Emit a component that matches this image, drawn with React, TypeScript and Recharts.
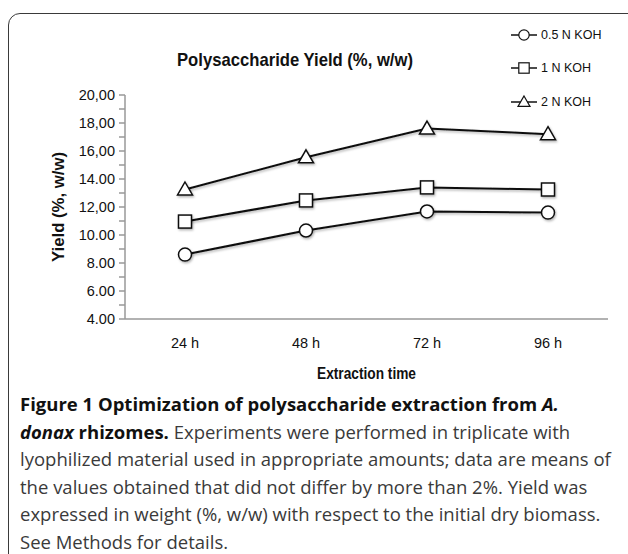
import React from 'react';
import { LineChart, Line, XAxis, YAxis, Legend } from 'recharts';

const times = ['24 h', '48 h', '72 h', '96 h'];
const koh05 = [8.6, 10.32, 11.68, 11.6];
const koh1 = [10.96, 12.47, 13.4, 13.25];
const koh2 = [13.25, 15.55, 17.6, 17.2];
const seriesNames = ['0.5 N KOH', '1 N KOH', '2 N KOH'];
const yTicks = [4, 5, 6, 7, 8, 9, 10, 11, 12, 13, 14, 15, 16, 17, 18, 19, 20];
const yTickLabels: Record<number, string> = {
  4: '4.00', 6: '6.00', 8: '8.00', 10: '10.00', 12: '12,00',
  14: '14.00', 16: '16,00', 18: '18,00', 20: '20,00',
};

const data = times.map((t, i) => ({ time: t, a: koh05[i], b: koh1[i], c: koh2[i] }));

type Shape = 'circle' | 'square' | 'triangle';

function Marker({ cx, cy, shape }: { cx: number; cy: number; shape: Shape }) {
  const common = { fill: '#fff', stroke: '#111', strokeWidth: 1.5 };
  if (shape === 'circle') return <circle cx={cx} cy={cy} r={6.5} {...common} />;
  if (shape === 'square') return <rect x={cx - 6.5} y={cy - 6.5} width={13} height={13} {...common} />;
  return <path d={`M${cx},${cy - 7.5} L${cx + 7.5},${cy + 5.5} L${cx - 7.5},${cy + 5.5} Z`} {...common} />;
}

const makeDot = (shape: Shape) => (props: any) => (
  <g key={`${shape}-${props.index}`} filter="url(#shadow)">
    <Marker cx={props.cx} cy={props.cy} shape={shape} />
  </g>
);

const shapes: Shape[] = ['circle', 'square', 'triangle'];

function LegendBox() {
  return (
    <div>
      {seriesNames.map((name, i) => (
        <div key={name} style={{ display: 'flex', alignItems: 'center', height: 33.5 }}>
          <svg width={28} height={16} style={{ display: 'block' }}>
            <line x1={1} y1={8} x2={27} y2={8} stroke="#111" strokeWidth={1.5} />
            <g transform="translate(14,8) scale(0.8) translate(-14,-8)">
              <Marker cx={14} cy={8} shape={shapes[i]} />
            </g>
          </svg>
          <span style={{ fontSize: 12.5, lineHeight: '16px', marginLeft: 3, color: '#111', fontFamily: 'Liberation Sans, Arial, sans-serif' }}>
            {name}
          </span>
        </div>
      ))}
    </div>
  );
}

const captionLines: React.ReactNode[] = [
  <b key="b1" style={{ color: '#111' }}>Figure 1 Optimization of polysaccharide extraction from <i>A.</i></b>,
  <>
    <b style={{ color: '#111' }}><i>donax</i> rhizomes.</b> Experiments were performed in triplicate with
  </>,
  'lyophilized material used in appropriate amounts; data are means of',
  'the values obtained that did not differ by more than 2%. Yield was',
  'expressed in weight (%, w/w) with respect to the initial dry biomass.',
  'See Methods for details.',
];

export default function App() {
  return (
    <div
      style={{
        position: 'absolute', left: 0, top: 0, width: 628, height: 554,
        overflow: 'hidden', background: '#fff',
        fontFamily: 'Liberation Sans, Arial, sans-serif',
      }}
    >
      <div
        style={{
          position: 'absolute', left: 8, top: 13, width: 700, height: 700,
          border: '1.5px solid #3a3a3a', borderRadius: 12, boxSizing: 'border-box',
        }}
      />
      <svg style={{ position: 'absolute', left: 0, top: 0 }} width={628} height={90}>
        <text
          x={295} y={66} textAnchor="middle" fontSize={19} fontWeight="bold"
          fill="#111" textLength={236} lengthAdjust="spacingAndGlyphs"
        >
          Polysaccharide Yield (%, w/w)
        </text>
      </svg>
      <div style={{ position: 'absolute', left: 0, top: 0 }}>
        <LineChart width={628} height={400} data={data} margin={{ top: 95, right: 20, bottom: 41, left: 65 }}>
          <defs>
            <filter id="shadow" x="-50%" y="-50%" width="200%" height="200%">
              <feDropShadow dx={1} dy={1.5} stdDeviation={1} floodColor="#000" floodOpacity={0.3} />
            </filter>
          </defs>
          <XAxis
            dataKey="time"
            axisLine={{ stroke: '#999', strokeWidth: 1.5 }}
            tickLine={false}
            tickMargin={13}
            height={40}
            padding={{ left: 60, right: 60 }}
            tick={{ fontSize: 14.5, fill: '#111' }}
            label={{
              content: (p: any) => (
                <text
                  x={p.viewBox.x + p.viewBox.width / 2} y={p.viewBox.y + 60}
                  textAnchor="middle" fontSize={16} fontWeight="bold" fill="#111"
                  textLength={99} lengthAdjust="spacingAndGlyphs"
                >
                  Extraction time
                </text>
              ),
            }}
          />
          <YAxis
            domain={[4, 20]}
            ticks={yTicks}
            interval={0}
            width={60}
            axisLine={{ stroke: '#999', strokeWidth: 1.5 }}
            tickLine={{ stroke: '#999', strokeWidth: 1.5 }}
            tickSize={6}
            tickMargin={4}
            tick={{ fontSize: 14.5, fill: '#111' }}
            tickFormatter={(v: number) => yTickLabels[v] ?? ''}
            label={{
              content: (p: any) => {
                const x = p.viewBox.x - 1;
                const y = p.viewBox.y + p.viewBox.height / 2;
                return (
                  <text
                    x={x} y={y} transform={`rotate(-90 ${x} ${y})`}
                    textAnchor="middle" fontSize={16} fontWeight="bold" fill="#111"
                    textLength={110} lengthAdjust="spacingAndGlyphs"
                  >
                    Yield (%, w/w)
                  </text>
                );
              },
            }}
          />
          <Legend
            layout="vertical"
            align="center"
            verticalAlign="middle"
            content={() => <LegendBox />}
            wrapperStyle={{ position: 'absolute', left: 510, top: 18, width: 118 }}
          />
          <Line dataKey="a" name={seriesNames[0]} stroke="#111" strokeWidth={2} filter="url(#shadow)"
            dot={makeDot('circle')} isAnimationActive={false} />
          <Line dataKey="b" name={seriesNames[1]} stroke="#111" strokeWidth={2} filter="url(#shadow)"
            dot={makeDot('square')} isAnimationActive={false} />
          <Line dataKey="c" name={seriesNames[2]} stroke="#111" strokeWidth={2} filter="url(#shadow)"
            dot={makeDot('triangle')} isAnimationActive={false} />
        </LineChart>
      </div>
      <div
        style={{
          position: 'absolute', left: 20, top: 390, fontFamily: '"Open Sans", "Noto Sans", sans-serif',
          fontSize: 18.5, color: '#3a3a3a', whiteSpace: 'nowrap',
        }}
      >
        {captionLines.map((line, i) => (
          <div key={i} style={{ height: 27.5, lineHeight: '27.5px' }}>
            {line}
          </div>
        ))}
      </div>
    </div>
  );
}
